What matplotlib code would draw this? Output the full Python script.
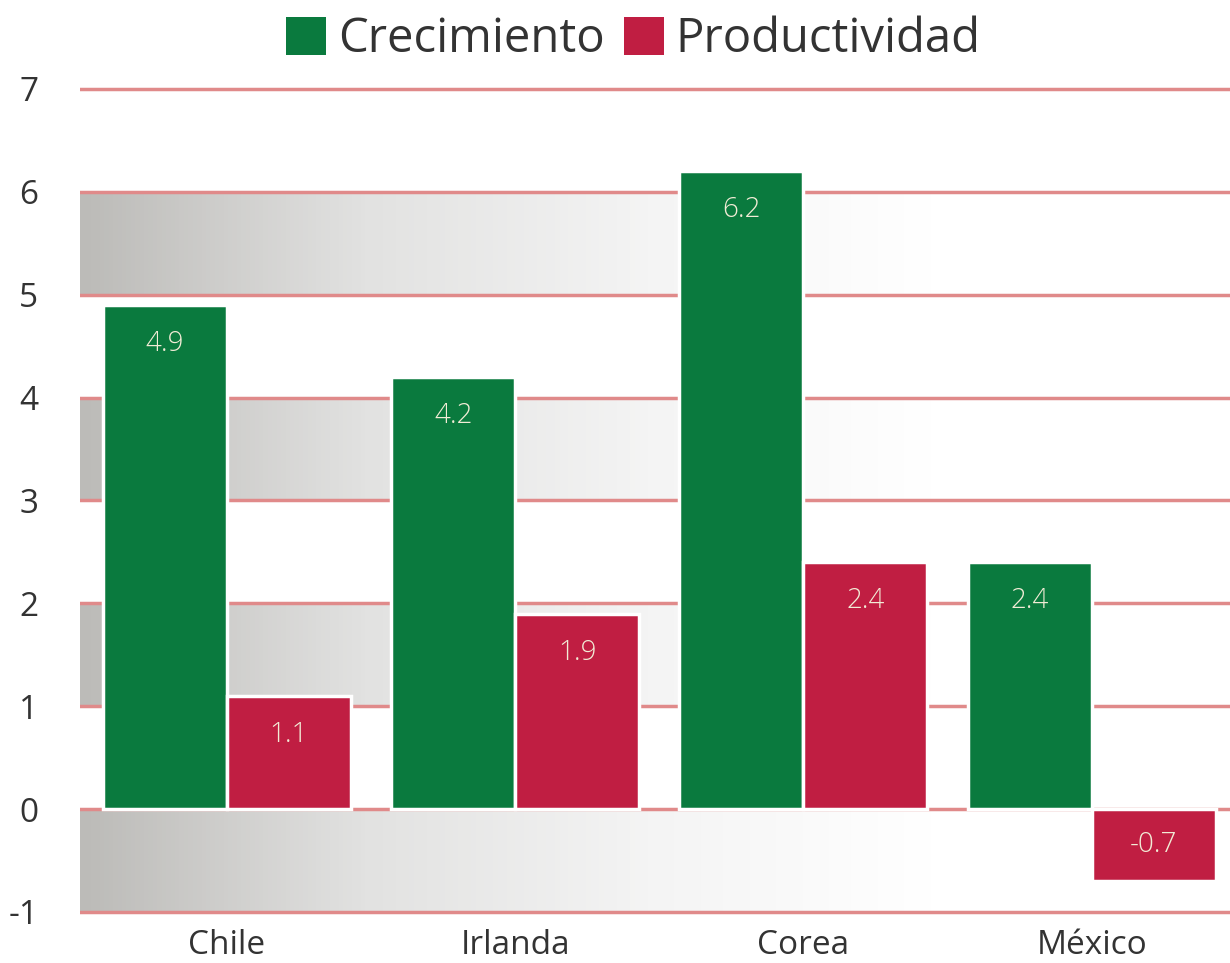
import numpy as np
import matplotlib
matplotlib.use('Agg')
import matplotlib.pyplot as plt
from matplotlib.colors import LinearSegmentedColormap
from matplotlib.patches import Patch

# Data
categories = ['Chile', 'Irlanda', 'Corea', 'México']
crecimiento = [4.9, 4.2, 6.2, 2.4]
productividad = [1.1, 1.9, 2.4, -0.7]
y_ticks = [-1, 0, 1, 2, 3, 4, 5, 6, 7]
shaded_bands = [(5, 6), (3, 4), (1, 2), (-1, 0)]

GREEN = '#0a7a3e'
RED = '#c01e42'
GRID = '#e08a8a'
TEXT = '#333333'
LABEL = '#f2ecd6'

plt.rcParams['font.family'] = ['Open Sans', 'DejaVu Sans']

fig = plt.figure(figsize=(12.3, 9.63), dpi=100)
ax = fig.add_axes([0.065, 0.0498, 0.935, 0.861])

x = np.arange(len(categories))
width = 0.43
xmin, xmax = -0.51, 3.48
ax.set_xlim(xmin, xmax)
ax.set_ylim(-1.03, 7.03)

# gradient bands (gray on the left fading to white)
cmap = LinearSegmentedColormap.from_list('band', ['#bcbbb8', '#e2e2e1', '#f4f4f4', '#ffffff', '#ffffff'])
grad = np.linspace(0, 1, 256).reshape(1, -1)
for lo, hi in shaded_bands:
    ax.imshow(grad, cmap=cmap, aspect='auto', extent=[xmin, xmax - 0.05, lo, hi],
              zorder=0, interpolation='bilinear')

# gridlines
for yv in y_ticks:
    ax.axhline(yv, color=GRID, linewidth=2.5, zorder=1)

ax.bar(x - width / 2, crecimiento, width, color=GREEN, edgecolor='white', linewidth=2.5, zorder=3)
ax.bar(x + width / 2, productividad, width, color=RED, edgecolor='white', linewidth=2.5, zorder=3)

# value labels
for xs, vals in [(x - width / 2, crecimiento), (x + width / 2, productividad)]:
    for xi, v in zip(xs, vals):
        yv = v - 0.38 if v >= 0 else v / 2
        ax.text(xi, yv, f'{v}', ha='center', va='center', color=LABEL, fontsize=20,
                fontweight='light', zorder=4)

ax.set_yticks(y_ticks)
ax.set_yticklabels([str(t) for t in y_ticks])
ax.set_xticks(x)
ax.set_xticklabels(categories)
ax.tick_params(axis='y', length=0, pad=30, labelsize=24, labelcolor=TEXT)
ax.tick_params(axis='x', length=0, pad=10, labelsize=24, labelcolor=TEXT)
for s in ax.spines.values():
    s.set_visible(False)

handles = [Patch(facecolor=GREEN, label='Crecimiento'), Patch(facecolor=RED, label='Productividad')]
fig.legend(handles=handles, loc='upper center', bbox_to_anchor=(0.515, 1.028), ncol=2,
           frameon=False, fontsize=34, handlelength=0.85, handleheight=0.85,
           handletextpad=0.25, columnspacing=0.4, labelcolor=TEXT)

fig.savefig('out.png', dpi=100)
